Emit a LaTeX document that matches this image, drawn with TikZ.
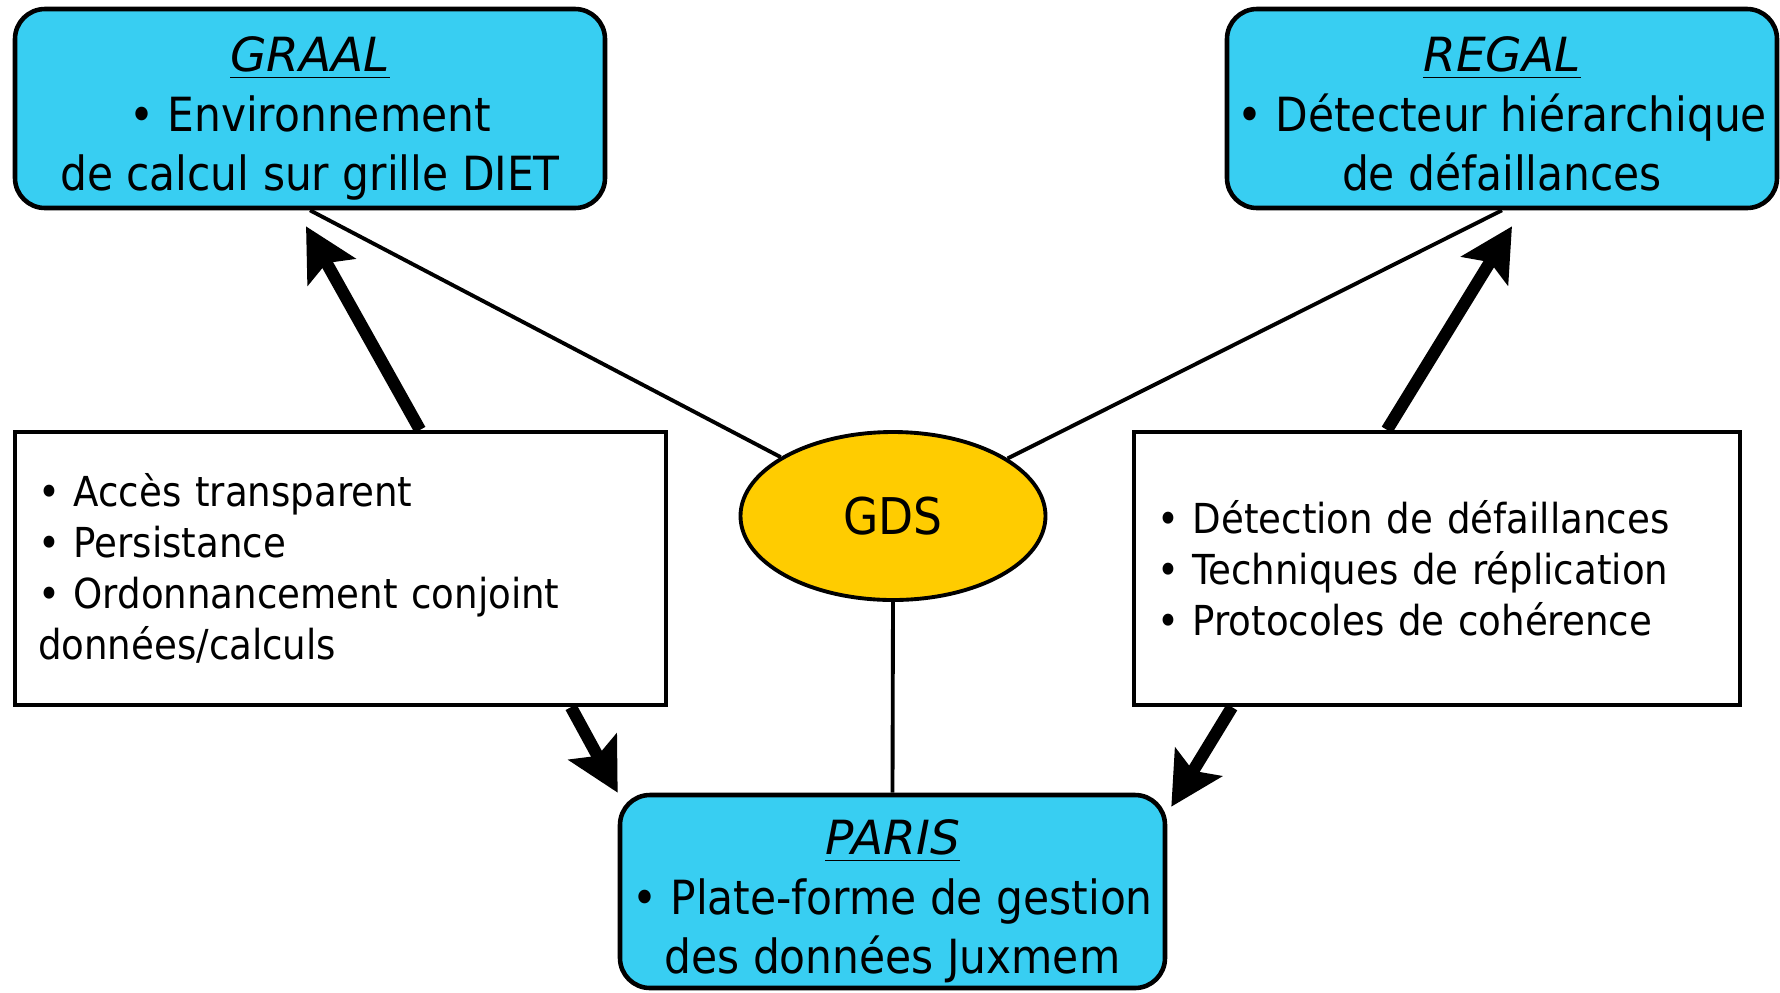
\documentclass[tikz,border=0pt]{standalone}
\usepackage{fontspec}
\setmainfont{DejaVu Sans Condensed}
\newfontfamily\titlefont{DejaVu Sans}
\usetikzlibrary{arrows.meta,shapes.geometric}
\definecolor{teamblue}{RGB}{56,206,242}
\definecolor{gdsyellow}{RGB}{255,204,0}
\newcommand\teamtitle[1]{\rule{0pt}{5.7mm}{\titlefont\itshape\underline{#1}}}
\newcommand\lastline{\rule[-1.2mm]{0pt}{1.2mm}}

\begin{document}
\begin{tikzpicture}[>={Stealth[length=5.2mm,width=5.4mm,inset=1mm]},
  team/.style={draw,line width=1.3pt,rounded corners=3mm,fill=teamblue,align=center,
    inner sep=0pt,font=\fontsize{13.4}{16.8}\selectfont},
  topics/.style={draw,line width=1.2pt,fill=white,align=left,inner xsep=2.3mm,
    minimum height=27.3mm,font=\fontsize{11.75}{14.5}\selectfont},
  link/.style={line width=1.1pt},
  feed/.style={->,line width=3.5pt}]
  \useasboundingbox (0,0) rectangle (17.8,-9.92);

  % the three teams
  \node[team,minimum width=59mm,minimum height=19.9mm] (graal) at (3.10,-1.085)
    {\teamtitle{GRAAL}\\• Environnement\\de calcul sur grille DIET\lastline};
  \node[team,minimum width=55mm,minimum height=19.9mm] (regal) at (15.02,-1.085)
    {\teamtitle{REGAL}\\• Détecteur hiérarchique\\de défaillances\lastline};
  \node[team,minimum width=54.5mm,minimum height=19.3mm] (paris) at (8.925,-8.915)
    {\teamtitle{PARIS}\\• Plate-forme de gestion\\des données Juxmem\lastline};

  \node[ellipse,draw,line width=1.1pt,fill=gdsyellow,minimum width=30.5mm,
    minimum height=16.8mm,font=\fontsize{14.4}{17}\selectfont] (gds) at (8.93,-5.16) {GDS};

  % shared topics
  \node[topics,text width=60.5mm] (graalparis) at (3.405,-5.685)
    {• Accès transparent\\• Persistance\\• Ordonnancement conjoint\\données/calculs};
  \node[topics,text width=56mm] (regalparis) at (14.37,-5.685)
    {• Détection de défaillances\\• Techniques de réplication\\• Protocoles de cohérence};

  \draw[link] (graal.south) -- (gds)
              (regal.south) -- (gds)
              (gds.south) -- (paris.north);

  \draw[feed] ([xshift=7.95mm]graalparis.north) -- ([xshift=-0.4mm,yshift=-1.6mm]graal.south);
  \draw[feed] ([xshift=23.05mm]graalparis.south) -- (paris.north west);
  \draw[feed] ([xshift=-5mm]regalparis.north) -- ([xshift=1mm,yshift=-1.6mm]regal.south);
  \draw[feed] ([xshift=-20.5mm]regalparis.south) -- ([xshift=0.4mm,yshift=-1.4mm]paris.north east);
\end{tikzpicture}
\end{document}
